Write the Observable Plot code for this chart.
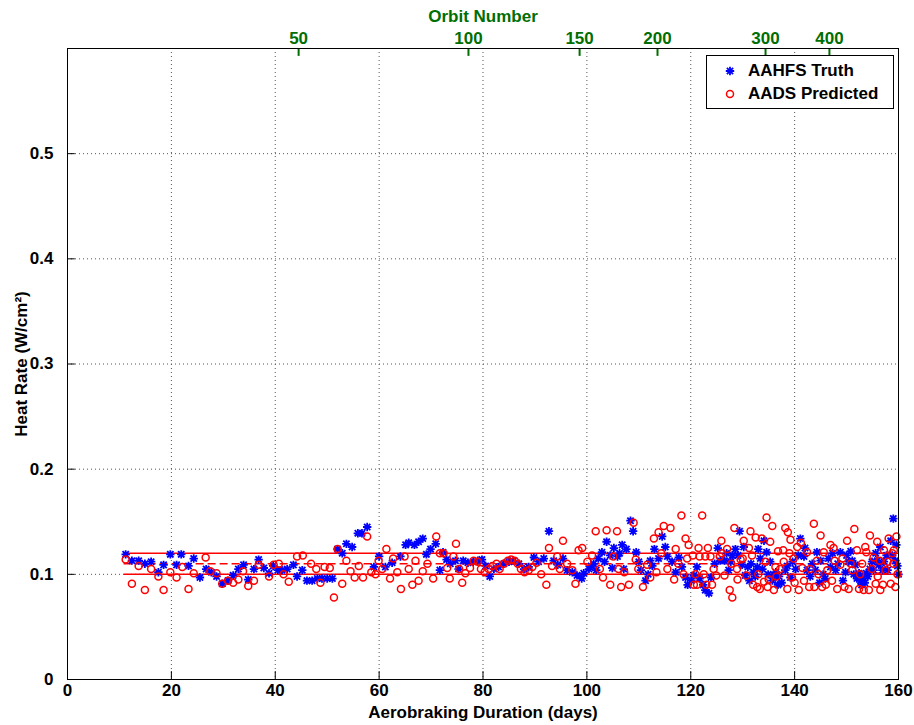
<!DOCTYPE html>
<html>
<head>
<meta charset="utf-8">
<script src="https://cdn.jsdelivr.net/npm/d3@7"></script>
<script src="https://cdn.jsdelivr.net/npm/@observablehq/plot@0.6"></script>
<style>
  body { margin: 0; background: #fff; }
  #wrap { position: relative; width: 914px; height: 725px; }
  #legend { position: absolute; left: 706px; top: 55px; width: 186px; height: 52px;
    border: 1px solid #000; background: #fff; font-family: "Liberation Sans", Arial, sans-serif;
    font-weight: bold; font-size: 17px; }
  .row { position: absolute; left: 0; height: 22px; display: flex; align-items: center; }
  .row svg { margin-left: 17px; margin-right: 12px; }
</style>
</head>
<body>
<div id="wrap"></div>
<script>
// ---- data ----
const xTicks = [0, 20, 40, 60, 80, 100, 120, 140, 160];
const xGrid = [20, 40, 60, 80, 100, 120, 140];
const yTicks = [0, 0.1, 0.2, 0.3, 0.4, 0.5];
const yGrid = [0.1, 0.2, 0.3, 0.4, 0.5];
const orbitLabels = ["50", "100", "150", "200", "300", "400"];
const orbitDays = [44.5, 77.2, 98.6, 113.6, 134.4, 146.7];
const bandLevels = [0.10, 0.12];
const bandMid = [0.11];
const bandStart = 10.9;
const bandEnd = 160;

const truthDay = [11.2,12.4,13.7,14.9,16.1,17.5,18.5,19.8,21.0,21.9,23.3,24.3,25.5,26.7,27.7,28.7,29.8,30.9,31.9,32.9,33.9,34.8,
  35.9,36.8,37.8,38.8,39.6,40.5,41.3,42.3,43.5,44.2,45.2,46.1,47.1,48.1,49.0,50.0,51.0,52.0,52.9,53.7,54.8,55.9,56.7,57.7,59.0,60.0,61.2,
  62.5,64.1,65.1,65.7,66.8,67.6,68.4,69.1,69.9,70.9,71.7,72.3,73.0,73.7,74.7,75.3,76.2,77.1,78.1,79.0,79.8,80.5,81.3,82.1,83.0,84.0,85.0,85.8,86.9,87.9,88.8,
  89.8,90.7,91.7,92.7,93.6,94.4,95.4,96.2,97.2,98.1,99.0,99.4,100.4,100.8,101.3,101.8,102.2,102.9,103.4,103.8,104.5,104.9,105.2,105.9,106.3,106.8,107.1,107.6,108.4,108.9,109.5,110.0,110.4,111.3,111.8,112.2,112.6,113.0,113.8,
  114.5,115.1,115.5,116.4,117.1,117.7,118.3,119.0,119.4,120.1,120.6,121.2,121.7,122.4,122.8,123.5,123.9,124.6,125.2,125.7,126.5,126.9,127.3,127.7,128.0,128.6,129.1,129.4,129.9,130.2,130.5,131.0,131.3,131.6,132.1,132.4,132.8,133.0,133.4,133.8,134.1,134.6,134.9,135.3,135.7,136.1,136.4,136.8,
  137.0,137.5,138.2,138.6,139.2,139.6,140.2,140.7,141.1,141.8,142.0,142.4,143.0,143.4,144.0,144.3,144.8,145.0,145.5,145.9,146.5,146.9,147.3,147.9,148.3,148.8,149.3,149.8,150.0,150.4,150.8,151.1,151.4,151.7,152.0,152.4,152.7,152.9,153.2,153.5,153.8,154.1,154.5,154.9,155.2,155.6,155.9,156.2,156.5,156.9,157.2,157.7,157.9,158.5,158.8,159.0,159.4,159.6,159.8,160.0];
const truthRate = [0.119,0.113,0.113,0.110,0.112,0.102,0.109,0.119,0.109,0.119,0.108,0.115,0.097,0.105,0.102,0.098,0.091,0.094,0.099,0.105,0.109,0.095,
  0.105,0.114,0.106,0.101,0.108,0.104,0.104,0.105,0.109,0.098,0.104,0.094,0.094,0.096,0.096,0.096,0.096,0.124,0.120,0.129,0.126,0.139,0.139,0.145,0.107,0.117,0.107,
  0.111,0.117,0.128,0.130,0.128,0.131,0.134,0.119,0.124,0.129,0.104,0.121,0.114,0.110,0.113,0.105,0.113,0.111,0.112,0.113,0.114,0.108,0.098,0.105,0.107,0.110,0.112,0.113,0.110,0.105,0.107,
  0.116,0.112,0.115,0.141,0.113,0.109,0.115,0.104,0.102,0.099,0.096,0.101,0.105,0.108,0.110,0.104,0.115,0.121,0.112,0.131,0.118,0.106,0.125,0.117,0.120,0.128,0.105,0.124,0.151,0.141,0.121,0.112,0.104,0.094,0.100,0.113,0.108,0.124,0.115,
  0.136,0.126,0.117,0.112,0.102,0.116,0.107,0.097,0.090,0.094,0.099,0.107,0.096,0.090,0.085,0.082,0.097,0.110,0.125,0.113,0.113,0.120,0.104,0.112,0.118,0.124,0.118,0.141,0.109,0.126,0.099,0.107,0.094,0.110,0.102,0.098,0.107,0.124,0.115,0.105,0.132,0.121,0.100,0.112,0.094,0.099,0.102,0.090,
  0.098,0.092,0.104,0.108,0.097,0.112,0.105,0.118,0.134,0.117,0.125,0.104,0.098,0.110,0.104,0.121,0.092,0.113,0.100,0.096,0.115,0.107,0.120,0.104,0.110,0.121,0.094,0.102,0.118,0.112,0.122,0.113,0.100,0.109,0.096,0.101,0.094,0.090,0.096,0.092,0.101,0.098,0.105,0.112,0.104,0.120,0.113,0.109,0.126,0.104,0.112,0.118,0.104,0.132,0.118,0.153,0.113,0.128,0.108,0.100];

const predDay = [11.2,12.4,13.7,14.9,16.1,17.5,18.5,19.8,21.0,22.1,23.3,24.3,26.6,27.5,28.7,29.8,30.9,31.9,32.9,33.8,34.8,
  35.9,36.8,38.8,39.7,40.7,41.6,42.6,44.2,45.3,46.9,47.9,48.7,49.5,50.5,51.3,52.0,52.9,53.7,54.5,55.3,56.1,56.9,57.7,58.5,59.3,59.9,60.6,61.4,62.1,
  62.7,63.5,64.2,64.9,65.7,66.4,67.0,67.6,68.4,69.3,70.4,71.0,71.7,72.4,73.1,73.6,74.3,74.8,75.4,76.0,76.6,77.5,78.2,79.0,79.6,80.3,81.1,81.8,82.6,83.2,84.0,84.8,85.4,86.1,86.7,87.3,88.0,88.8,
  89.5,90.3,91.2,92.2,92.7,93.3,94.3,94.8,95.4,96.2,97.2,97.8,98.4,99.1,100.1,101.0,101.7,102.5,103.1,103.8,104.5,105.1,105.8,106.1,106.6,107.2,108.1,109.0,109.4,109.9,110.8,111.6,112.2,112.9,113.4,113.8,
  114.3,114.8,115.5,116.1,116.8,117.1,117.6,118.2,118.6,119.0,119.3,119.6,120.4,120.6,120.9,121.2,121.5,121.7,122.2,122.5,122.8,123.0,123.3,123.8,124.1,124.4,124.9,125.6,125.9,126.0,126.5,127.0,127.5,127.8,128.0,128.4,128.9,129.0,129.6,130.0,130.2,130.7,131.2,131.5,131.8,132.0,132.5,132.8,133.0,133.3,133.7,134.1,134.4,134.6,134.8,135.0,135.3,135.7,136.0,136.3,136.5,136.8,
  137.2,137.8,137.9,138.2,138.6,138.7,139.0,139.2,139.5,139.8,140.0,140.5,140.8,141.2,141.5,141.8,142.4,142.8,143.0,143.7,143.8,144.3,144.6,145.0,145.3,145.6,146.0,146.3,146.9,147.2,147.5,147.7,148.2,148.8,149.2,149.6,150.1,150.4,150.8,151.1,151.5,152.0,152.4,152.6,153.0,153.3,153.6,153.8,154.3,154.5,154.9,155.2,155.6,155.9,156.0,156.4,156.5,157.0,157.2,157.5,157.9,158.1,158.5,158.8,159.0,159.1,159.4,159.6,159.8];
const predRate = [0.114,0.091,0.108,0.085,0.105,0.098,0.085,0.102,0.097,0.107,0.086,0.101,0.116,0.103,0.101,0.091,0.094,0.092,0.095,0.103,0.089,
  0.094,0.109,0.098,0.109,0.110,0.100,0.093,0.117,0.118,0.110,0.105,0.092,0.107,0.106,0.078,0.124,0.091,0.113,0.103,0.097,0.108,0.097,0.136,0.102,0.100,0.113,0.105,0.124,0.096,
  0.115,0.102,0.086,0.117,0.105,0.090,0.113,0.094,0.103,0.110,0.096,0.136,0.120,0.120,0.106,0.096,0.117,0.129,0.105,0.092,0.101,0.106,0.113,0.112,0.105,0.102,0.105,0.108,0.110,0.105,0.110,0.113,0.114,0.113,0.110,0.105,0.102,0.104,
  0.107,0.111,0.100,0.090,0.125,0.108,0.117,0.105,0.132,0.110,0.104,0.091,0.123,0.125,0.112,0.118,0.141,0.105,0.097,0.142,0.090,0.117,0.141,0.105,0.088,0.102,0.090,0.149,0.114,0.105,0.088,0.109,0.097,0.134,0.102,0.140,
  0.120,0.146,0.105,0.144,0.095,0.124,0.110,0.156,0.100,0.134,0.115,0.128,0.118,0.090,0.100,0.090,0.125,0.117,0.156,0.100,0.117,0.090,0.125,0.117,0.090,0.105,0.099,0.117,0.132,0.120,0.099,0.124,0.085,0.110,0.078,0.144,0.105,0.095,0.114,0.115,0.132,0.099,0.125,0.141,0.118,0.090,0.135,0.088,0.100,0.086,0.134,0.093,0.112,0.154,0.088,0.095,0.131,0.146,0.085,0.107,0.098,0.122,
  0.105,0.123,0.112,0.144,0.086,0.140,0.120,0.133,0.097,0.115,0.092,0.126,0.085,0.130,0.106,0.094,0.121,0.088,0.105,0.148,0.088,0.113,0.100,0.137,0.088,0.121,0.090,0.104,0.128,0.094,0.125,0.113,0.086,0.109,0.115,0.088,0.132,0.086,0.110,0.104,0.143,0.123,0.086,0.100,0.110,0.085,0.126,0.121,0.085,0.137,0.105,0.116,0.091,0.131,0.098,0.113,0.085,0.090,0.123,0.104,0.112,0.134,0.091,0.120,0.110,0.123,0.088,0.136,0.100];

// ---- build ----
const truth = truthDay.map((d, i) => ({day: d, rate: truthRate[i]}));
const pred = predDay.map((d, i) => ({day: d, rate: predRate[i]}));
const orbit = orbitDays.map((d, i) => ({day: d, label: orbitLabels[i]}));
const green = "#006e00";

// MATLAB-like 8-point star marker
const star = {
  draw(ctx, size) {
    const r = Math.sqrt(size / Math.PI);
    const a = r * 0.75;
    ctx.moveTo(-r, 0); ctx.lineTo(r, 0);
    ctx.moveTo(0, -r); ctx.lineTo(0, r);
    ctx.moveTo(-a, -a); ctx.lineTo(a, a);
    ctx.moveTo(-a, a); ctx.lineTo(a, -a);
  }
};

const chart = Plot.plot({
  width: 914,
  height: 725,
  marginLeft: 67,
  marginRight: 16,
  marginTop: 48,
  marginBottom: 46,
  style: {fontFamily: "'Liberation Sans', Arial, sans-serif", fontSize: "17px", fontWeight: "bold", color: "#000", background: "#fff"},
  x: {domain: [0, 160]},
  y: {domain: [0, 0.6]},
  marks: [
    Plot.gridX(xGrid, {stroke: "#555", strokeOpacity: 1, strokeDasharray: "1,3"}),
    Plot.gridY(yGrid, {stroke: "#555", strokeOpacity: 1, strokeDasharray: "1,3"}),
    Plot.ruleY(bandLevels, {x1: bandStart, x2: bandEnd, stroke: "#ff0000", strokeWidth: 1.5}),
    Plot.ruleY(bandMid, {x1: bandStart, x2: bandEnd, stroke: "#ff0000", strokeWidth: 1.5, strokeDasharray: "8,4"}),
    Plot.dot(truth, {x: "day", y: "rate", symbol: star, r: 4.2, stroke: "#0000ff", strokeWidth: 1.8}),
    Plot.dot(pred, {x: "day", y: "rate", r: 3.5, stroke: "#ff0000", strokeWidth: 1.5, fill: "none"}),
    // inward ticks
    Plot.ruleX(xTicks, {y1: 0, y2: 0.0075, stroke: "#000"}),
    Plot.ruleY(yTicks, {x1: 0, x2: 1.5, stroke: "#000"}),
    Plot.ruleX(orbit, {x: "day", y1: 0.6, y2: 0.5925, stroke: green, strokeWidth: 2}),
    Plot.axisX({ticks: xTicks, tickSize: 0, tickPadding: 4, tickFormat: d => String(d),
      label: "Aerobraking Duration (days)", labelAnchor: "center", labelArrow: "none", labelOffset: 38}),
    Plot.axisY({ticks: yTicks, tickSize: 0, tickPadding: 14, tickFormat: d => d === 0 ? "0" : d.toFixed(1),
      label: "Heat Rate (W/cm²)", labelAnchor: "center", labelArrow: "none", labelOffset: 53}),
    Plot.axisX(orbitDays, {anchor: "top", tickSize: 0, tickPadding: 5, tickFormat: (d, i) => orbitLabels[i],
      color: green, fill: green, label: "Orbit Number", labelAnchor: "center", labelArrow: "none", labelOffset: 39}),
    Plot.frame({stroke: "#000"})
  ]
});

const wrap = document.getElementById("wrap");
wrap.appendChild(chart);

// legend
const legend = document.createElement("div");
legend.id = "legend";
legend.innerHTML = `
  <div class="row" style="top:4px"><svg width="12" height="12" viewBox="-6 -6 12 12">
    <path d="M-4.2,0L4.2,0M0,-4.2L0,4.2M-3.1,-3.1L3.1,3.1M-3.1,3.1L3.1,-3.1" stroke="#0000ff" stroke-width="1.8"/></svg>AAHFS Truth</div>
  <div class="row" style="top:27px"><svg width="12" height="12" viewBox="-6 -6 12 12">
    <circle r="3.5" fill="none" stroke="#ff0000" stroke-width="1.5"/></svg>AADS Predicted</div>`;
wrap.appendChild(legend);
</script>
</body>
</html>
